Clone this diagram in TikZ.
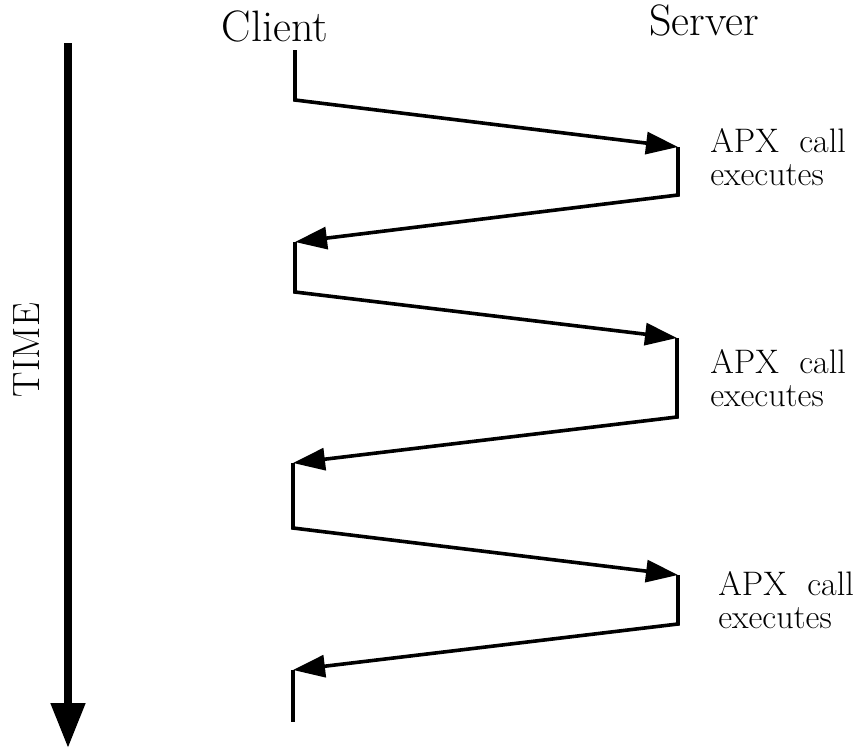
\documentclass[tikz,border=0pt]{standalone}
\usetikzlibrary{arrows.meta}
\begin{document}
\begin{tikzpicture}[x=0.5pt,y=-0.5pt,
  msg/.style={line width=1.8pt,line join=miter,-{Triangle[length=16pt,width=11pt]}},
  hold/.style={line width=1.8pt,line join=miter},
  party/.style={inner sep=0pt,anchor=base,font=\fontsize{22}{26}\selectfont},
  work/.style={inner sep=0pt,anchor=base west,align=left,font=\fontsize{17}{16.5}\selectfont},
  timeaxis/.style={line width=4pt,-{Triangle[length=22.5pt,width=16.5pt]}}]
\useasboundingbox (0,0) rectangle (859,751);

% time axis
\coordinate (t0) at (68,43);
\coordinate (t1) at (68,748);
\draw[timeaxis] (t0) -- (t1);
\node[inner sep=0pt,rotate=90,font=\fontsize{19}{22}\selectfont] (time) at (27,350) {TIME};

% column headings
\node[party] (client) at (275,41) {Client};
\node[party] (server) at (704,35) {Server};

% turning points on the client and server sides
\coordinate (c0) at (295,50);
\coordinate (c1) at (295,100);
\coordinate (s1) at (678,147);
\coordinate (s1b) at (678,195);
\coordinate (c2) at (295,242);
\coordinate (c2b) at (295,292);
\coordinate (s2) at (677,338);
\coordinate (s2b) at (677,417);
\coordinate (c3) at (293,463);
\coordinate (c3b) at (293,528);
\coordinate (s3) at (678,575);
\coordinate (s3b) at (678,624);
\coordinate (c4) at (293,670);
\coordinate (c4b) at (293,722);

% request / reply exchanges
\draw[msg] (c0) -- (c1) -- (s1);
\draw[msg] (s1) -- (s1b) -- (c2);
\draw[msg] (c2) -- (c2b) -- (s2);
\draw[msg] (s2) -- (s2b) -- (c3);
\draw[msg] (c3) -- (c3b) -- (s3);
\draw[msg] (s3) -- (s3b) -- (c4);
\draw[hold] (c4) -- (c4b);

% server-side labels (anchored on the baseline of the second line)
\node[work] (apx1) at (710,185) {APX\ \ call\\executes};
\node[work] (apx2) at (710,406) {APX\ \ call\\executes};
\node[work] (apx3) at (718,628) {APX\ \ call\\executes};
\end{tikzpicture}
\end{document}
